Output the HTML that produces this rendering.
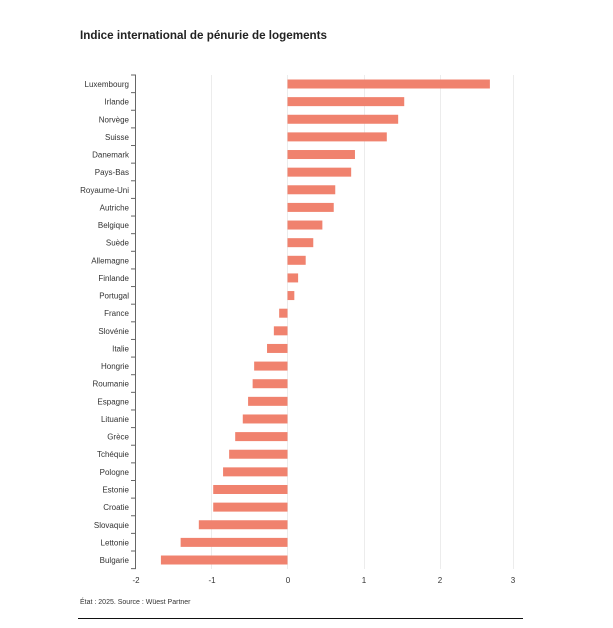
<!DOCTYPE html>
<html><head><meta charset="utf-8"><style>
html,body{margin:0;padding:0;background:#fff;}
svg{display:block;font-family:"Liberation Sans",Arial,sans-serif;}
</style></head><body>
<svg width="613" height="628" viewBox="0 0 613 628" xmlns="http://www.w3.org/2000/svg">
<rect width="613" height="628" fill="#fff"/>
<text x="80" y="39" font-size="12" font-weight="bold" fill="#222" textLength="247" lengthAdjust="spacingAndGlyphs">Indice international de pénurie de logements</text>
<g stroke="#ececec" stroke-width="1">
<line x1="211.5" y1="75" x2="211.5" y2="569"/>
<line x1="287.5" y1="75" x2="287.5" y2="569"/>
<line x1="364.5" y1="75" x2="364.5" y2="569"/>
<line x1="440.5" y1="75" x2="440.5" y2="569"/>
<line x1="513.5" y1="75" x2="513.5" y2="569"/>
</g>
<g id="bars" fill="#f0826e"></g>
<g id="labels" font-size="8" fill="#333" text-anchor="end"></g>
<g id="ticks" stroke="#666" stroke-width="1"></g>
<line x1="135.5" y1="75" x2="135.5" y2="569" stroke="#666" stroke-width="1"/>
<g font-size="8" fill="#333" text-anchor="middle">
<text x="136" y="583">-2</text><text x="212" y="583">-1</text><text x="288" y="583">0</text>
<text x="364" y="583">1</text><text x="440" y="583">2</text><text x="513" y="583">3</text>
</g>
<text x="80" y="604" font-size="7" fill="#333">État : 2025. Source : Wüest Partner</text>
<line x1="78" y1="618.5" x2="523" y2="618.5" stroke="#111" stroke-width="1"/>
<script>
var d=[["Luxembourg",2.67],["Irlande",1.54],["Norvège",1.46],["Suisse",1.31],["Danemark",0.89],["Pays-Bas",0.84],["Royaume-Uni",0.63],["Autriche",0.61],["Belgique",0.46],["Suède",0.34],["Allemagne",0.24],["Finlande",0.14],["Portugal",0.09],["France",-0.11],["Slovénie",-0.18],["Italie",-0.27],["Hongrie",-0.44],["Roumanie",-0.46],["Espagne",-0.52],["Lituanie",-0.59],["Grèce",-0.69],["Tchéquie",-0.77],["Pologne",-0.85],["Estonie",-0.98],["Croatie",-0.98],["Slovaquie",-1.17],["Lettonie",-1.41],["Bulgarie",-1.67]];
var ns="http://www.w3.org/2000/svg",b=document.getElementById("bars"),l=document.getElementById("labels"),t=document.getElementById("ticks");
var z=287.5,s=75.8,st=17.63;
function el(n,a,p){var e=document.createElementNS(ns,n);for(var k in a)e.setAttribute(k,a[k]);p.appendChild(e);return e;}
d.forEach(function(r,i){var y=84+i*st;var x2=z+r[1]*s;
el("rect",{x:Math.min(z,x2),y:y-4.5,width:Math.abs(x2-z),height:9},b);
var tx=el("text",{x:129,y:y+3},l);tx.textContent=r[0];
});
for(var i=0;i<=28;i++){var y=75+i*st;el("line",{x1:131,y1:y,x2:136,y2:y},t);}
</script>
</svg>
</body></html>
